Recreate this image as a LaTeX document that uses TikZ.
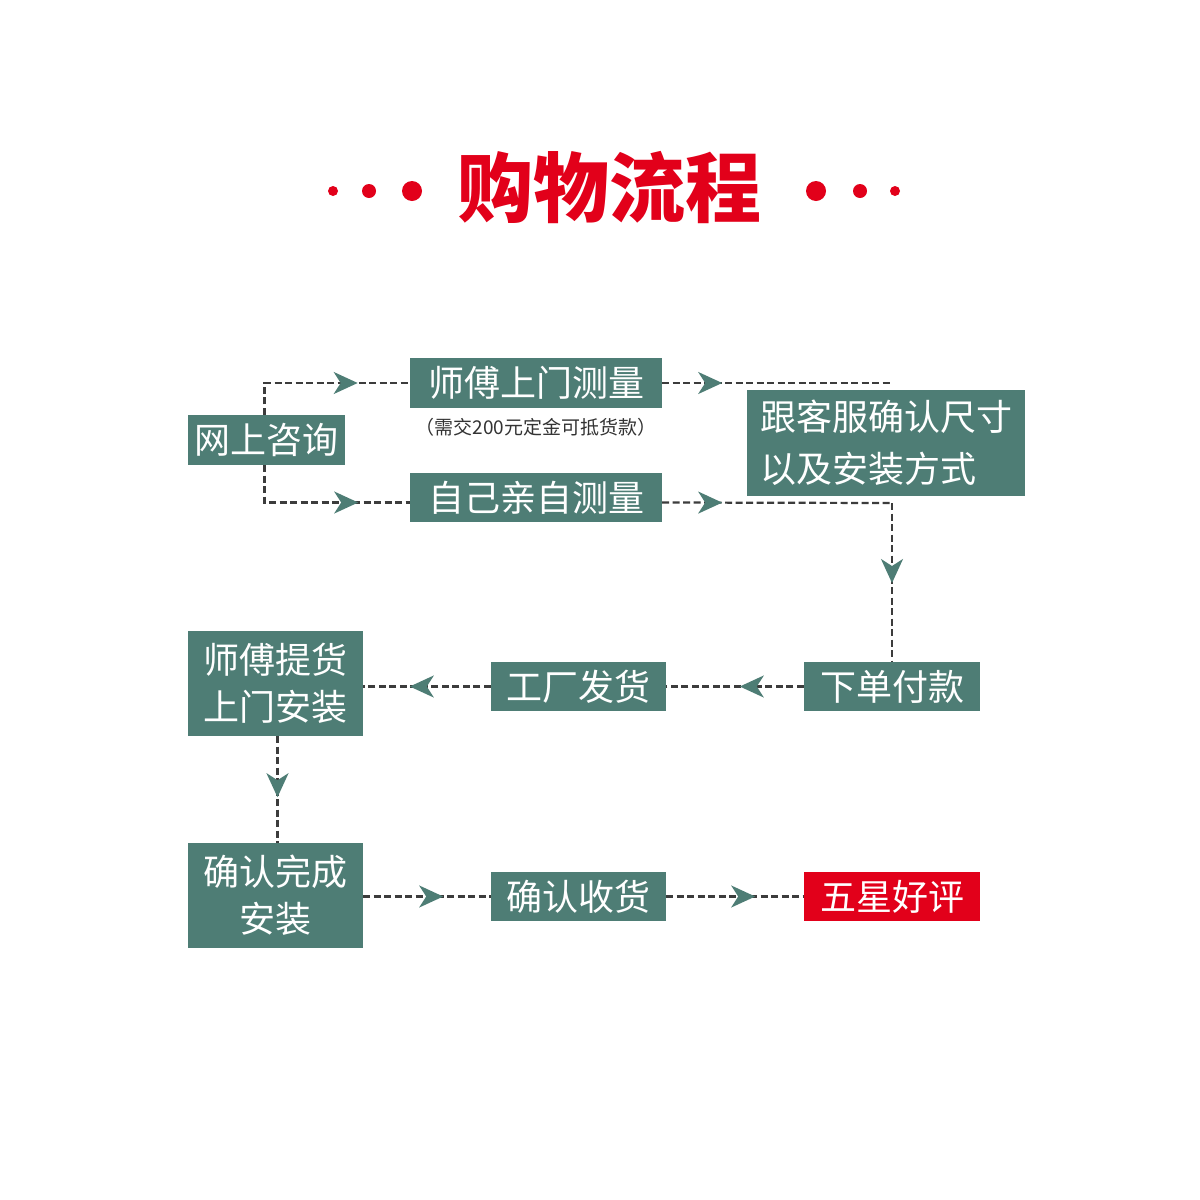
\documentclass[tikz,border=0pt]{standalone}
\usepackage{fontspec}
\newfontfamily\cjk{Noto Sans CJK SC}
\usetikzlibrary{arrows.meta,decorations.markings}
\definecolor{boxg}{HTML}{4E7D75}
\definecolor{tipg}{HTML}{4E7D75}
\definecolor{lineg}{HTML}{3C3C3C}
\definecolor{redc}{HTML}{E2001A}
\definecolor{subg}{HTML}{333333}
\begin{document}
\begin{tikzpicture}[x=1pt,y=-1pt,
 box/.style={fill=boxg,text=white,inner sep=0pt,font=\cjk\fontsize{36}{52}\selectfont},
 tallbox/.style={box,minimum width=175pt,minimum height=105pt,align=center,font=\cjk\fontsize{36}{47}\selectfont},
 flow/.style={draw=lineg,line width=2.2pt,dash pattern=on 7pt off 3.5pt,postaction={decorate},
   decoration={markings,mark=at position #1 with {\arrow{Stealth[length=24pt,width=22pt,inset=7pt,color=tipg]}}}}]
\useasboundingbox[fill=white] (0,0) rectangle (1200,1200);
% title
\node[font=\cjk\bfseries\fontsize{76}{80}\selectfont,text=redc] (t) at (609,188) {购物流程};
\fill[redc] (333,191) circle (5pt);
\fill[redc] (369,191) circle (7pt);
\fill[redc] (412,191) circle (10pt);
\fill[redc] (816,191) circle (10pt);
\fill[redc] (860,191) circle (7pt);
\fill[redc] (895,191) circle (5pt);
% nodes
\node[box,minimum width=157pt,minimum height=50pt] (q) at (266.5,440) {网上咨询};
\node[box,minimum width=252pt,minimum height=50pt] (m1) at (536,383) {师傅上门测量};
\node[font=\cjk\fontsize{19}{22}\selectfont,text=subg] (n) at (536,427) {（需交200元定金可抵货款）};
\node[box,minimum width=252pt,minimum height=49pt] (m2) at (536,497.5) {自己亲自测量};
\node[box,minimum width=278pt,minimum height=106pt,align=left] (k) at (886,443) {跟客服确认尺寸\\以及安装方式};
\node[box,minimum width=176pt,minimum height=49pt] (p) at (892,686.5) {下单付款};
\node[box,minimum width=175pt,minimum height=49pt] (f) at (578.5,686.5) {工厂发货};
\node[tallbox] (s) at (275.5,683.5) {师傅提货\\上门安装};
\node[tallbox] (c) at (275.5,895.5) {确认完成\\安装};
\node[box,minimum width=175pt,minimum height=49pt] (r) at (578.5,896.5) {确认收货};
\node[box,fill=redc,minimum width=176pt,minimum height=49pt] (w) at (892,896.5) {五星好评};
\coordinate (c1) at (890,383);
\coordinate (c2) at (892,503);
% connectors
\draw[flow=125pt] ([xshift=-2pt]q.north) |- (m1.west);
\draw[flow=131pt] ([xshift=-2pt]q.south) |- ([yshift=-5pt]m2.west);
\draw[flow=60pt] (m1.east) -- (c1);
\draw[flow=60pt] ([yshift=-5pt]m2.east) -- (c2);
\draw[flow=80pt] (c2) -- (p.north);
\draw[flow=64pt] (p.west) -- (f.east);
\draw[flow=81pt] (f.west) -- (f.west -| s.east);
\draw[flow=61pt] ([xshift=2pt]s.south) -- ([xshift=2pt]c.north);
\draw[flow=80pt] (r.west -| c.east) -- (r.west);
\draw[flow=89pt] (r.east) -- (w.west);
\end{tikzpicture}
\end{document}
